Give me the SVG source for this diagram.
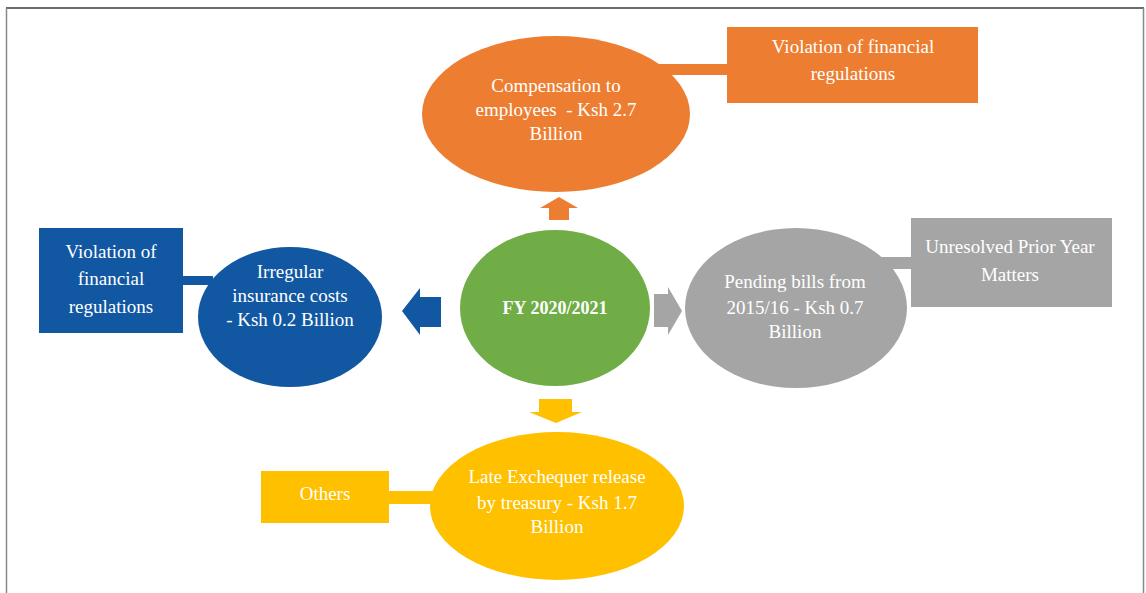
<svg xmlns="http://www.w3.org/2000/svg" width="1146" height="593" viewBox="0 0 1146 593">
  <style>
    .lbl { font-family: "Liberation Serif", "DejaVu Serif", serif; font-size: 19px; fill: #ffffff; text-anchor: middle; }
    .bold { font-weight: bold; font-size: 18px; }
    .orange { fill: #ED7D31; }
    .blue { fill: #1157A2; }
    .gray { fill: #A5A5A5; }
    .yellow { fill: #FFC000; }
    .green { fill: #70AD47; }
  </style>

  <!-- page frame -->
  <rect x="0" y="0" width="1146" height="593" fill="#ffffff"/>
  <line x1="6" y1="8" x2="1144" y2="8" stroke="#3a3a3a" stroke-width="1.5"/>
  <line x1="6.5" y1="8" x2="6.5" y2="593" stroke="#888888" stroke-width="1.5"/>
  <line x1="1143.5" y1="8" x2="1143.5" y2="593" stroke="#888888" stroke-width="1.5"/>

  <!-- connectors: bars from satellites to their category boxes, and arrows out of the hub -->
  <g id="connectors">
    <rect class="orange" x="640" y="64" width="90" height="11"/>
    <rect class="blue" x="181" y="276" width="32" height="9"/>
    <rect class="gray" x="875" y="257" width="38" height="12"/>
    <rect class="yellow" x="387" y="491" width="55" height="13"/>

    <polygon class="orange" points="559,197 578,208 569,208 569,220 549,220 549,208 540,208"/>
    <polygon class="blue" points="402,311 420,288 420,297 441,297 441,327 420,327 420,335"/>
    <polygon class="gray" points="682,311 668,287 668,294 654,294 654,327 668,327 668,335"/>
    <polygon class="yellow" points="556,423 582,412 572,412 572,399 539,399 539,412 529,412"/>
  </g>

  <g id="hub">
    <ellipse class="green" cx="555" cy="308" rx="95" ry="78"/>
    <text class="lbl bold" x="555" y="314">FY 2020/2021</text>
  </g>

  <g id="compensation">
    <ellipse class="orange" cx="556" cy="114" rx="134" ry="78"/>
    <text class="lbl" x="556" y="92">Compensation to</text>
    <text class="lbl" x="556" y="116" xml:space="preserve">employees  - Ksh 2.7</text>
    <text class="lbl" x="556" y="140">Billion</text>
  </g>

  <g id="compensation-cause">
    <rect class="orange" x="727" y="27" width="251" height="76"/>
    <text class="lbl" x="853" y="53">Violation of financial</text>
    <text class="lbl" x="853" y="80">regulations</text>
  </g>

  <g id="insurance">
    <ellipse class="blue" cx="290" cy="317" rx="92" ry="70"/>
    <text class="lbl" x="290" y="278">Irregular</text>
    <text class="lbl" x="290" y="302">insurance costs</text>
    <text class="lbl" x="290" y="326">- Ksh 0.2 Billion</text>
  </g>

  <g id="insurance-cause">
    <rect class="blue" x="39" y="228" width="144" height="105"/>
    <text class="lbl" x="111" y="258">Violation of</text>
    <text class="lbl" x="111" y="285">financial</text>
    <text class="lbl" x="111" y="313">regulations</text>
  </g>

  <g id="pending-bills">
    <ellipse class="gray" cx="796" cy="308" rx="111" ry="80"/>
    <text class="lbl" x="795" y="288">Pending bills from</text>
    <text class="lbl" x="795" y="314">2015/16 - Ksh 0.7</text>
    <text class="lbl" x="795" y="338">Billion</text>
  </g>

  <g id="pending-bills-cause">
    <rect class="gray" x="911" y="218" width="201" height="89"/>
    <text class="lbl" x="1010" y="253">Unresolved Prior Year</text>
    <text class="lbl" x="1010" y="281">Matters</text>
  </g>

  <g id="exchequer">
    <ellipse class="yellow" cx="557" cy="506" rx="127" ry="74"/>
    <text class="lbl" x="557" y="483">Late Exchequer release</text>
    <text class="lbl" x="557" y="509">by treasury - Ksh 1.7</text>
    <text class="lbl" x="557" y="533">Billion</text>
  </g>

  <g id="exchequer-cause">
    <rect class="yellow" x="261" y="471" width="128" height="52"/>
    <text class="lbl" x="325" y="500">Others</text>
  </g>
</svg>
